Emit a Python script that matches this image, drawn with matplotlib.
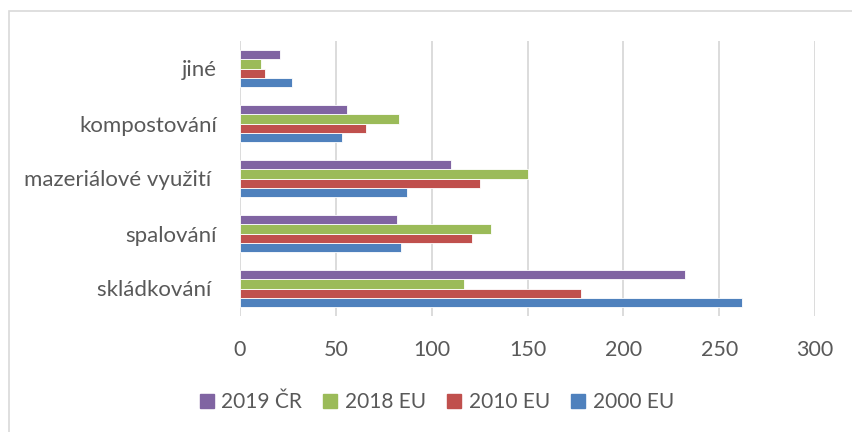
import matplotlib.pyplot as plt
from matplotlib.patches import Rectangle
from matplotlib.lines import Line2D
import numpy as np

plt.rcParams.update({
    'font.family': ['Lato', 'DejaVu Sans'],
})

# ── data ─────────────────────────────────────────────
categories = ['skládkování ', 'spalování', 'mazeriálové využití ', 'kompostování', 'jiné']
eu_2000 = [262, 84, 87, 53, 27]
eu_2010 = [178, 121, 125, 66, 13]
eu_2018 = [117, 131, 150, 83, 11]
cr_2019 = [232, 82, 110, 56, 21]

series = [
    ('2000 EU', eu_2000, '#4F81BD'),
    ('2010 EU', eu_2010, '#C0504D'),
    ('2018 EU', eu_2018, '#9BBB59'),
    ('2019 ČR', cr_2019, '#8064A2'),
]
x_ticks = [0, 50, 100, 150, 200, 250, 300]

TXT = '#595959'
GRID = '#D9D9D9'
BAR_H = 0.168

fig = plt.figure(figsize=(8.53, 4.32), dpi=100)
ax = fig.add_axes([240 / 853, 1 - 316 / 432, 575 / 853, 275 / 432])

y = np.arange(len(categories))
for i, (name, vals, col) in enumerate(series):
    off = (i - 1.5) * BAR_H
    ax.barh(y + off, vals, height=BAR_H, color=col, edgecolor='white',
            linewidth=0.6, zorder=3, label=name)

ax.set_xlim(0, 300)
ax.set_ylim(-0.5, len(categories) - 0.5)
ax.set_xticks(x_ticks)
ax.set_xticklabels([str(t) for t in x_ticks])
ax.set_yticks(y)
ax.set_yticklabels(categories)
ax.tick_params(axis='x', length=0, pad=17.5, labelsize=15.5, labelcolor=TXT)
ax.tick_params(axis='y', length=0, pad=16.5, labelsize=16, labelcolor=TXT)

for t in x_ticks:
    ax.axvline(t, color=GRID, lw=1.3, zorder=1)
for s in ax.spines.values():
    s.set_visible(False)

# legend (reverse order)
handles = [Line2D([0], [0], marker='s', linestyle='none', markersize=9.5,
                  markerfacecolor=col, markeredgecolor=col, label=name)
           for name, vals, col in reversed(series)]
fig.legend(handles=handles, loc='center', bbox_to_anchor=(435 / 853, 1 - 402 / 432),
           ncol=4, frameon=False, fontsize=15, labelcolor=TXT,
           handletextpad=0.2, columnspacing=0.85, handlelength=1.0)

# outer frame
fig.patches.append(Rectangle((8.5 / 853, -0.1), 1.0, 1 + 0.1 - 11 / 432,
                             transform=fig.transFigure, fill=False,
                             edgecolor='#D9D9D9', lw=1.2))

fig.savefig('out.png', dpi=100, facecolor='white')
